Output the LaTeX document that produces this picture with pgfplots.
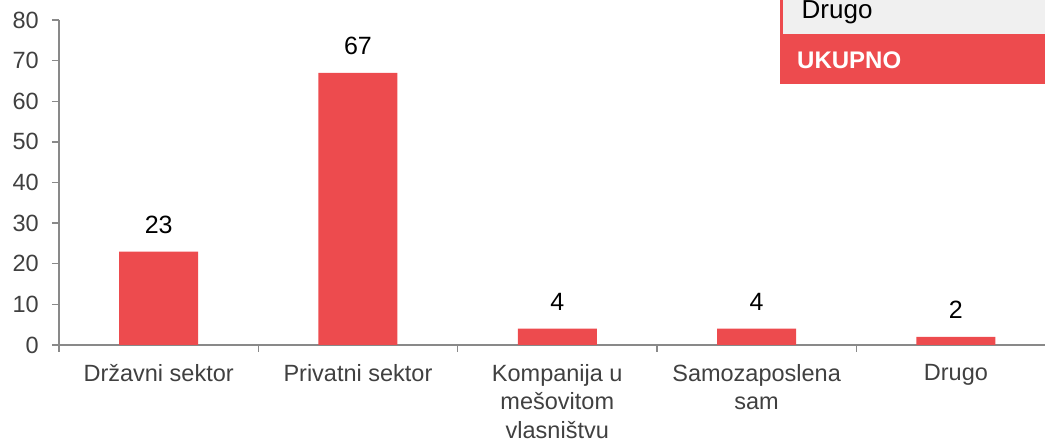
\documentclass[border=0pt]{standalone}
\usepackage{pgfplots}
\pgfplotsset{compat=1.18}
\usetikzlibrary{calc}
\usepackage{fontspec}
\setmainfont{Liberation Sans}
\definecolor{barred}{RGB}{237,75,78}
\definecolor{axgray}{RGB}{137,137,137}
\definecolor{lblgray}{RGB}{64,64,64}
\definecolor{rowgray}{RGB}{240,240,240}

\begin{document}
\begin{tikzpicture}
\begin{axis}[name=ax, scale only axis, width=986pt, height=325pt,
  xmin=-0.5, xmax=4.447, ymin=0, ymax=80, clip=false,
  axis x line=bottom, axis y line=left,
  axis line style={-, draw=axgray, line width=1.3pt},
  tick align=outside, major tick length=7pt,
  tick style={draw=axgray, line width=1.3pt},
  /pgf/number format/assume math mode=true,
  ytick={0,10,...,80},
  yticklabel style={font=\fontsize{23.5}{28}\selectfont, text=lblgray, inner sep=0pt, xshift=-13pt},
  xtick={-0.5,0.5,1.5,2.5,3.5}, xticklabels={,,,,},
  extra x ticks={0,1,2,3,4},
  extra x tick labels={Državni sektor, Privatni sektor, {Kompanija u\\mešovitom\\vlasništvu}, {Samozaposlena\\sam}, Drugo},
  extra x tick style={major tick length=0pt,
    xticklabel style={align=center, font=\fontsize{23.5}{28.5}\selectfont, text=lblgray, inner sep=0pt, yshift=-19pt}},
  nodes near coords,
  every node near coord/.append style={font=\fontsize{25}{30}\selectfont, text=black, inner sep=0pt, yshift=18pt},
]
\addplot[ybar, fill=barred, draw=none, bar width=79pt] coordinates {(0,23) (1,67) (2,4) (3,4) (4,2)};
\end{axis}
\begin{scope}[shift={($(ax.south west)+(-59pt,345pt)$)}, x=1pt, y=-1pt]
  \fill[rowgray] (781,-10) rectangle (1060,34);
  \fill[barred] (780,-10) rectangle (782.5,34);
  \fill[barred] (780,34) rectangle (1060,84);
  \node[anchor=base west, inner sep=0pt, font=\fontsize{26}{30}\selectfont] at (801.5,19) {Drugo};
  \node[anchor=base west, inner sep=0pt, text=white, font=\fontsize{24}{28}\selectfont\bfseries] at (797,69) {UKUPNO};
  \pgfresetboundingbox
  \path (0,0) rectangle (1045,439);
\end{scope}
\end{tikzpicture}
\end{document}
